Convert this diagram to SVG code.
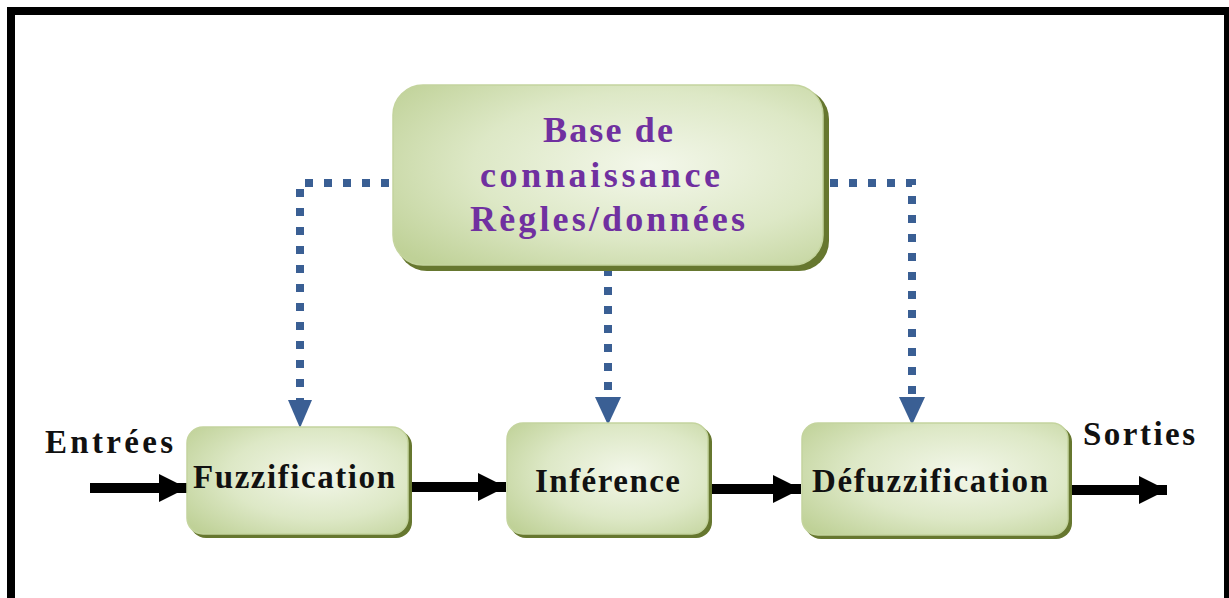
<svg xmlns="http://www.w3.org/2000/svg" width="1229" height="598" viewBox="0 0 1229 598">
<defs>
<radialGradient id="g" cx="0.6" cy="0.45" r="0.75">
<stop offset="0" stop-color="#f3f7ea"/>
<stop offset="0.55" stop-color="#dde8c6"/>
<stop offset="1" stop-color="#bfd197"/>
</radialGradient>
<marker id="ah" viewBox="0 0 10 10" refX="10" refY="5" markerWidth="2.8" markerHeight="2.9" orient="auto" markerUnits="strokeWidth">
<path d="M0,0 L10,5 L0,10 Z" fill="#000"/>
</marker>
</defs>
<style>
.shadow{fill:#66772f}
.box{fill:url(#g);stroke:#c4d49e;stroke-width:1.5}
.lbl{font-family:"Liberation Serif",serif;font-weight:bold;fill:#111;font-size:33px}
.kb{font-family:"Liberation Serif",serif;font-weight:bold;fill:#7030a0;font-size:36px}
.flow{stroke:#000;stroke-width:10;fill:none;marker-end:url(#ah)}
.dot{stroke:#3a5f94;stroke-width:8;fill:none;stroke-dasharray:8 11}
.arr{fill:#3a5f94}
</style>
<rect x="0" y="0" width="1229" height="598" fill="#fff"/>
<rect x="11" y="11" width="1217" height="600" fill="none" stroke="#000" stroke-width="8"/>

<g id="connectors">
<path class="dot" d="M389,183 H300 V400"/>
<polygon class="arr" points="288,400 312,400 300,428"/>
<path class="dot" d="M608,268 V398"/>
<polygon class="arr" points="595,397 621,397 608,425"/>
<path class="dot" d="M830,183 H912 V398"/>
<polygon class="arr" points="899,397 925,397 912,425"/>
<path class="flow" d="M90,488 H187"/>
<path class="flow" d="M412,487 H506"/>
<path class="flow" d="M712,489 H801"/>
<path class="flow" d="M1072,490 H1167"/>
</g>

<g id="kb">
<rect class="shadow" x="397" y="89" width="432" height="182" rx="30"/>
<rect class="box" x="393" y="85" width="430" height="180" rx="30"/>
<text class="kb" x="543" y="142" textLength="130" lengthAdjust="spacing">Base de</text>
<text class="kb" x="480" y="187" textLength="240" lengthAdjust="spacing">connaissance</text>
<text class="kb" x="470" y="231" textLength="275" lengthAdjust="spacing">Règles/données</text>
</g>

<g id="fuzz">
<rect class="shadow" x="190" y="430" width="222" height="108" rx="16"/>
<rect class="box" x="187" y="427" width="221" height="107" rx="16"/>
<text class="lbl" x="193" y="488" textLength="202" lengthAdjust="spacing">Fuzzification</text>
</g>

<g id="inf">
<rect class="shadow" x="510" y="426" width="202" height="112" rx="16"/>
<rect class="box" x="507" y="423" width="201" height="111" rx="16"/>
<text class="lbl" x="535" y="492" textLength="145" lengthAdjust="spacing">Inférence</text>
</g>

<g id="defuzz">
<rect class="shadow" x="805" y="426" width="267" height="113" rx="16"/>
<rect class="box" x="802" y="423" width="266" height="112" rx="16"/>
<text class="lbl" x="812" y="492" textLength="236" lengthAdjust="spacing">Défuzzification</text>
</g>

<g id="in-label">
<text class="lbl" x="45" y="453" textLength="128" lengthAdjust="spacing">Entrées</text>
</g>
<g id="out-label">
<text class="lbl" x="1083" y="445" textLength="112" lengthAdjust="spacing">Sorties</text>
</g>
</svg>
